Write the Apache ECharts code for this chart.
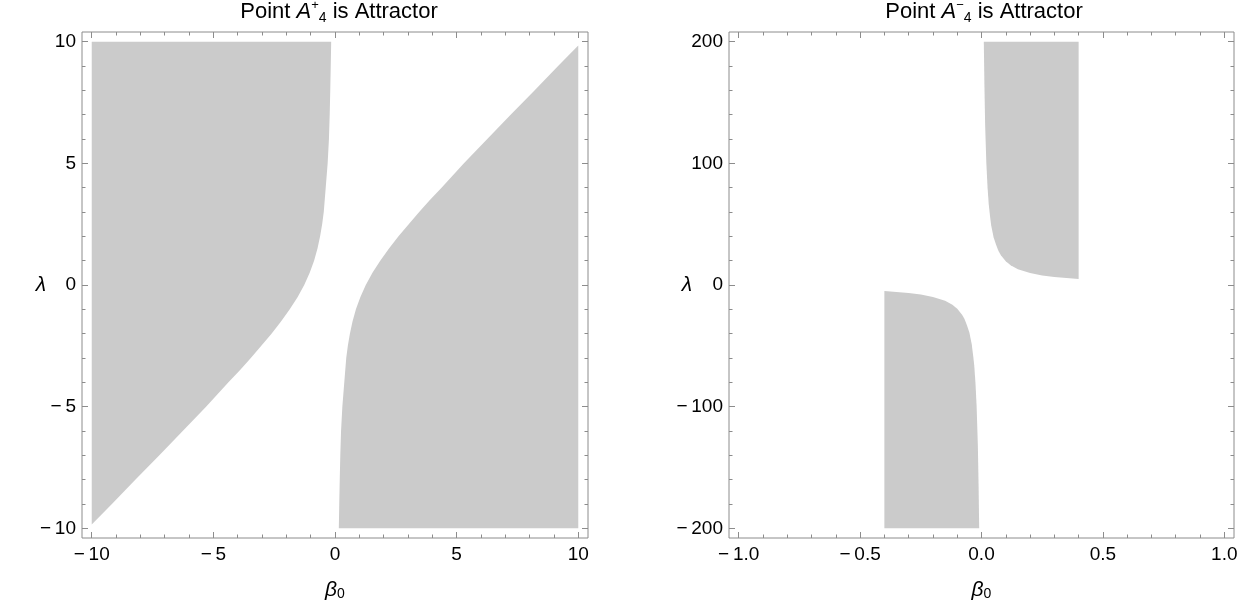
<!DOCTYPE html>
<html>
<head>
<meta charset="utf-8">
<script src="https://cdn.jsdelivr.net/npm/echarts@6/dist/echarts.min.js"></script>
<style>
  html, body { margin: 0; padding: 0; background: #fff; }
  #chart { width: 1256px; height: 609px; }
</style>
</head>
<body>
<div id="chart"></div>
<script>
// ---- Left panel: region where A+4 is an attractor (beta0 in [-10,10], lambda in [-10,10]) ----
// Upper-left region: boundary curve from the top edge down to the left edge
const plusLeftBeta   = [-0.157, -0.175, -0.195, -0.218, -0.249, -0.302, -0.382, -0.462, -0.528, -0.612, -0.72, -0.86, -1.04, -1.265, -1.54, -1.86, -2.22, -2.61, -3.03, -3.46, -3.91, -4.38, -5.30, -6.26, -7.22, -8.20, -9.17, -10];
const plusLeftLambda = [10, 9, 8, 7, 6, 5, 4, 3, 2.5, 2, 1.5, 1, 0.5, 0, -0.5, -1, -1.5, -2, -2.5, -3, -3.5, -4, -5, -6, -7, -8, -9, -9.84];
// Lower-right region: boundary curve from the bottom edge up to the right edge
const plusRightBeta   = [0.157, 0.175, 0.195, 0.218, 0.249, 0.302, 0.382, 0.462, 0.528, 0.612, 0.72, 0.86, 1.04, 1.265, 1.54, 1.86, 2.22, 2.61, 3.03, 3.46, 3.91, 4.38, 5.30, 6.26, 7.22, 8.20, 9.17, 10];
const plusRightLambda = [-10, -9, -8, -7, -6, -5, -4, -3, -2.5, -2, -1.5, -1, -0.5, 0, 0.5, 1, 1.5, 2, 2.5, 3, 3.5, 4, 5, 6, 7, 8, 9, 9.84];

// ---- Right panel: region where A-4 is an attractor (beta0 in [-1,1], lambda in [-200,200]) ----
const minusTopBeta   = [0.0095, 0.012, 0.015, 0.02, 0.025, 0.03, 0.035, 0.04, 0.045, 0.05, 0.06, 0.07, 0.08, 0.1, 0.12, 0.15, 0.2, 0.25, 0.3, 0.35, 0.4];
const minusTopLambda = [200, 165, 132, 100, 80, 66, 57, 49, 44, 39, 33, 28, 24.5, 19.5, 16.3, 13, 9.8, 7.9, 6.6, 5.7, 5.0];
const minusBottomBeta   = [-0.0095, -0.012, -0.015, -0.02, -0.025, -0.03, -0.035, -0.04, -0.045, -0.05, -0.06, -0.07, -0.08, -0.1, -0.12, -0.15, -0.2, -0.25, -0.3, -0.35, -0.4];
const minusBottomLambda = [-200, -165, -132, -100, -80, -66, -57, -49, -44, -39, -33, -28, -24.5, -19.5, -16.3, -13, -9.8, -7.9, -6.6, -5.7, -5.0];

// ---- Axis ticks ----
const leftMajorX = [-10, -5, 0, 5, 10];
const leftMinorX = [-9, -8, -7, -6, -4, -3, -2, -1, 1, 2, 3, 4, 6, 7, 8, 9];
const leftMajorY = [-10, -5, 0, 5, 10];
const leftMinorY = [-9, -8, -7, -6, -4, -3, -2, -1, 1, 2, 3, 4, 6, 7, 8, 9];
const rightMajorX = [-1, -0.5, 0, 0.5, 1];
const rightMinorX = [-0.9, -0.8, -0.7, -0.6, -0.4, -0.3, -0.2, -0.1, 0.1, 0.2, 0.3, 0.4, 0.6, 0.7, 0.8, 0.9];
const rightMajorY = [-200, -100, 0, 100, 200];
const rightMinorY = [-180, -160, -140, -120, -80, -60, -40, -20, 20, 40, 60, 80, 120, 140, 160, 180];

const FONT = '"Liberation Sans", Arial, sans-serif';
const FRAME = '#8c8c8c';
const FILL = '#cbcbcb';

function minusFmt(decimals) {
  return function (v) {
    const s = Math.abs(v).toFixed(decimals);
    return v < 0 ? '\u2212\u2009' + s : s;
  };
}

// Build the polygons of each shaded region from the boundary arrays
function zip(bs, ls) { return bs.map((b, i) => [b, ls[i]]); }
const regionPlusLeft  = [[-10, 10]].concat(zip(plusLeftBeta, plusLeftLambda));
const regionPlusRight = [[10, -10]].concat(zip(plusRightBeta, plusRightLambda));
const regionMinusTop    = zip(minusTopBeta, minusTopLambda).concat([[0.4, 200]]);
const regionMinusBottom = zip(minusBottomBeta, minusBottomLambda).concat([[-0.4, -200]]);

function regionSeries(polygons, axisIndex) {
  return {
    type: 'custom',
    xAxisIndex: axisIndex,
    yAxisIndex: axisIndex,
    silent: true,
    data: polygons.map((p, i) => [i]),
    renderItem: function (params, api) {
      const poly = polygons[params.dataIndex];
      return {
        type: 'polygon',
        shape: { points: poly.map(p => api.coord(p)) },
        style: { fill: FILL, stroke: null }
      };
    }
  };
}

const nameRich = {
  b: { fontFamily: FONT, fontStyle: 'italic', fontSize: 21, color: '#000', lineHeight: 22 },
  s: { fontFamily: FONT, fontSize: 14, color: '#000', lineHeight: 12, verticalAlign: 'bottom' }
};

function axisSet(grid, dir, major, minor, min, max, fmt, nameGap) {
  const isX = dir === 'x';
  const posMain = isX ? 'bottom' : 'left';
  const posOpp = isX ? 'top' : 'right';
  const base = {
    type: 'value', gridIndex: grid, min: min, max: max,
    axisLine: { show: false, onZero: false }, splitLine: { show: false }
  };
  const majorTick = { show: true, inside: true, length: 6, customValues: major, lineStyle: { color: FRAME, width: 1 } };
  const minorTick = { show: true, inside: true, length: 3.5, customValues: minor, lineStyle: { color: FRAME, width: 1 } };
  const main = Object.assign({}, base, {
    position: posMain,
    axisTick: majorTick,
    axisLabel: {
      show: true, customValues: major, formatter: fmt,
      fontFamily: FONT, fontSize: 19, color: '#000', margin: isX ? 7 : 6
    },
    name: isX ? '{b|\u03b2}{s|0}' : '{b|\u03bb}',
    nameLocation: 'middle',
    nameGap: nameGap,
    nameRotate: 0,
    nameMoveOverlap: false,
    nameTextStyle: { rich: nameRich }
  });
  const noLabel = { show: false };
  return [
    main,
    Object.assign({}, base, { position: posMain, axisTick: minorTick, axisLabel: noLabel }),
    Object.assign({}, base, { position: posOpp, axisTick: majorTick, axisLabel: noLabel }),
    Object.assign({}, base, { position: posOpp, axisTick: minorTick, axisLabel: noLabel })
  ];
}

const xAxes = [].concat(
  axisSet(0, 'x', leftMajorX, leftMinorX, -10.4, 10.4, minusFmt(0), 41),
  axisSet(1, 'x', rightMajorX, rightMinorX, -1.04, 1.04, minusFmt(1), 41)
);
const yAxes = [].concat(
  axisSet(0, 'y', leftMajorY, leftMinorY, -10.4, 10.4, minusFmt(0), 36),
  axisSet(1, 'y', rightMajorY, rightMinorY, -208, 208, minusFmt(0), 37)
);

const titleRich = {
  n: { fontFamily: FONT, fontSize: 22, color: '#000', lineHeight: 26 },
  i: { fontFamily: FONT, fontSize: 22, fontStyle: 'italic', color: '#000', lineHeight: 26 },
  sup: { fontFamily: FONT, fontSize: 13, color: '#000', lineHeight: 15, verticalAlign: 'top' },
  sub: { fontFamily: FONT, fontSize: 14, color: '#000', lineHeight: 14, verticalAlign: 'bottom' }
};

const chart = echarts.init(document.getElementById('chart'), null, { renderer: 'canvas' });
chart.setOption({
  animation: false,
  backgroundColor: '#fff',
  grid: [
    { left: 82, top: 32, width: 506, height: 506, show: true, borderColor: FRAME, borderWidth: 1, backgroundColor: 'transparent' },
    { left: 729, top: 32, width: 505, height: 506, show: true, borderColor: FRAME, borderWidth: 1, backgroundColor: 'transparent' }
  ],
  xAxis: xAxes,
  yAxis: yAxes,
  graphic: [
    { type: 'text', x: 339, y: -1, silent: true,
      style: { text: '{n|Point }{i|A}{sup|+}{sub|4}{n| is Attractor}', rich: titleRich, align: 'center', verticalAlign: 'top' } },
    { type: 'text', x: 984, y: -1, silent: true,
      style: { text: '{n|Point }{i|A}{sup|\u2212}{sub|4}{n| is Attractor}', rich: titleRich, align: 'center', verticalAlign: 'top' } }
  ],
  series: [
    regionSeries([regionPlusLeft, regionPlusRight], 0),
    regionSeries([regionMinusTop, regionMinusBottom], 4)
  ]
});
</script>
</body>
</html>
